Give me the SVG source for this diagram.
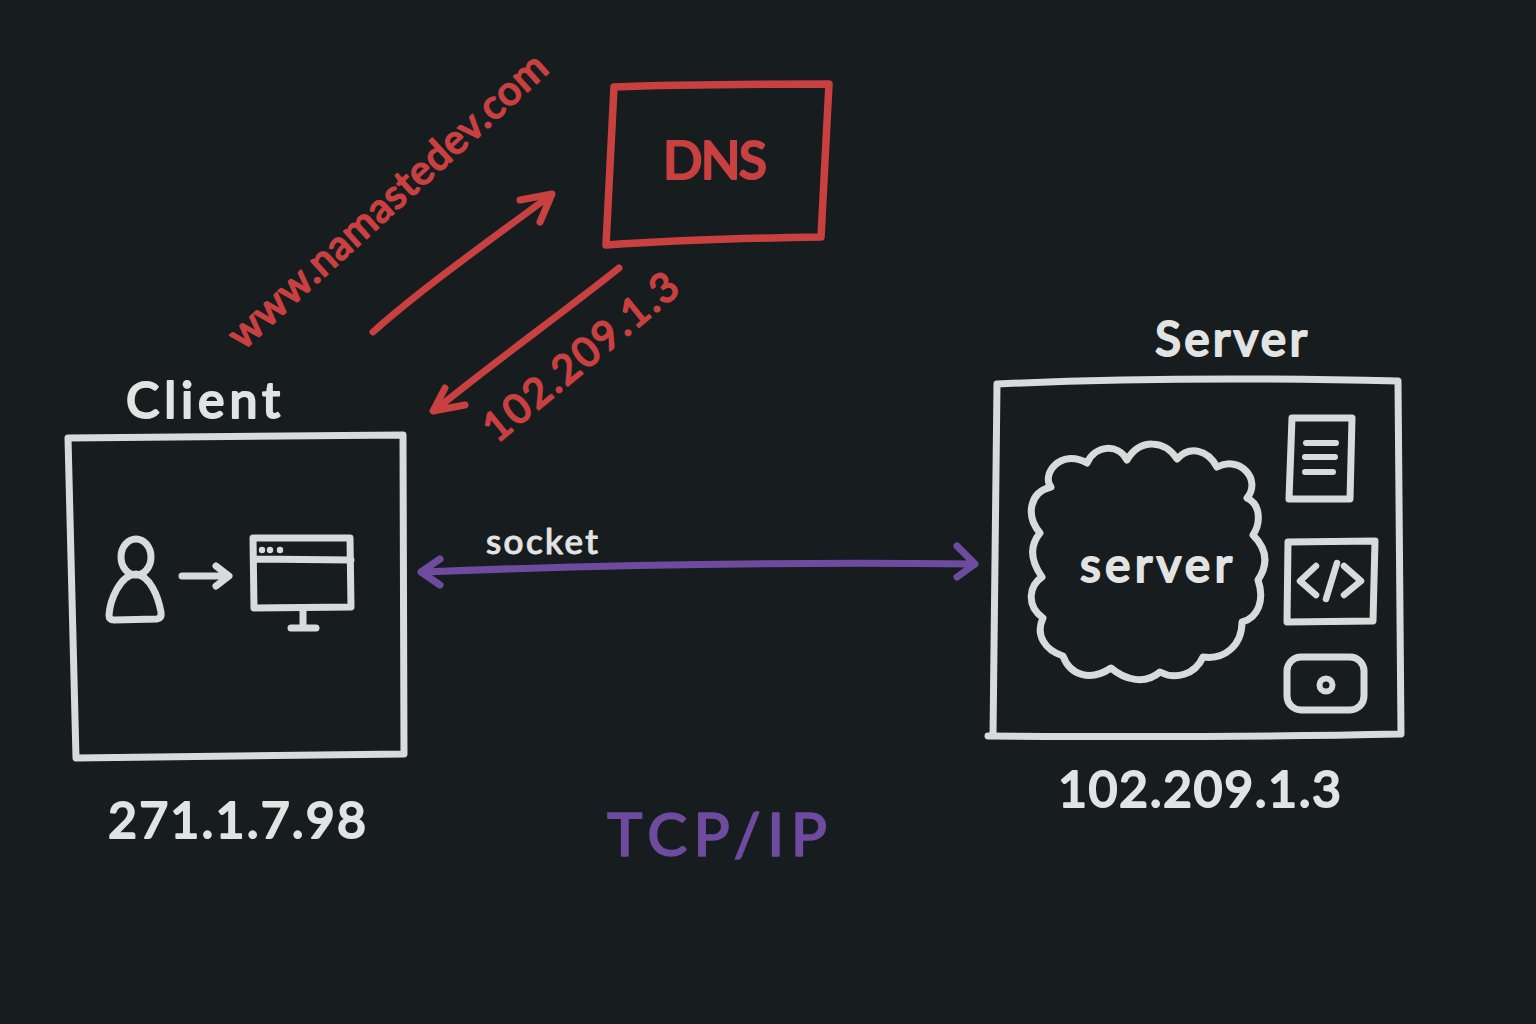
<svg xmlns="http://www.w3.org/2000/svg" width="1536" height="1024" viewBox="0 0 1536 1024">
<style>
.w{fill:none;stroke:#d9dbdb;stroke-linecap:round;stroke-linejoin:round}
.r{fill:none;stroke:#c94040;stroke-linecap:round;stroke-linejoin:round}
.p{fill:none;stroke:#6f4ba0;stroke-width:7;stroke-linecap:round;stroke-linejoin:round}
text{font-family:"Lato","Noto Sans","Liberation Sans",sans-serif;font-weight:500;stroke-linejoin:round}
.tw{fill:#e2e3e3;stroke:#e2e3e3;stroke-width:2}
.tr{fill:#c94040;stroke:#c94040;stroke-width:1.6}
</style>
<rect width="1536" height="1024" fill="#171c1f"/>
<g id="client">
<path class="w" stroke-width="7" d="M68 438 L403 435 L404 754 L76 758 Z"/>
<text class="tw" x="126" y="418" font-size="50" textLength="154">Client</text>
<text class="tw" x="108" y="838" font-size="50" textLength="258">271.1.7.98</text>
<g id="client-user">
<ellipse class="w" stroke-width="7" cx="136" cy="557" rx="15" ry="18"/>
<path class="w" stroke-width="7" d="M136 574 C120 575 110 600 109 615 Q109 620 114 620 L157 619 Q162 618 161 612 C158 596 150 576 136 574 Z"/>
</g>
<path class="w" stroke-width="7" d="M182 576 L228 576 M216 566 L229 576 L216 586"/>
<g id="client-browser">
<path class="w" stroke-width="7" d="M253 538 L350 538 L351 607 L254 608 Z M254 559 L351 560"/>
<circle cx="262" cy="550" r="3.2" fill="#d9dbdb"/><circle cx="270" cy="550" r="3.2" fill="#d9dbdb"/><circle cx="280" cy="550" r="3.2" fill="#d9dbdb"/>
<path class="w" stroke-width="7" d="M303 609 L303 628 M291 628 L316 628"/>
</g>
</g>
<g id="dns">
<path class="r" stroke-width="7.5" d="M614 87 C680 84 760 84 829 84 L821 237 C750 238 680 240 606 245 Z"/>
<text class="tr" x="663" y="179" font-size="52" textLength="104" style="stroke-width:2.2">DNS</text>
</g>
<g id="server">
<path class="w" stroke-width="7" d="M997 384 C1130 378 1270 378 1398 381 L1401 734 C1260 737 1120 737 988 736 M997 384 L993 736"/>
<text class="tw" x="1155" y="356" font-size="48" textLength="152">Server</text>
<text class="tw" x="1058" y="807" font-size="50" textLength="283">102.209.1.3</text>
<g id="server-cloud">
<path class="w" stroke-width="7" d="M1051 487 C1041 475 1060 448 1087 463 C1095 445 1118 443 1127 460 C1140 438 1165 440 1177 459 C1190 445 1208 450 1217 467 C1240 455 1262 480 1247 498 C1262 505 1260 525 1253 535 C1268 550 1268 565 1258 580 C1265 600 1258 618 1242 622 C1242 645 1225 660 1203 657 C1195 675 1175 680 1160 672 C1145 685 1125 680 1111 668 C1090 682 1070 675 1063 656 C1045 650 1035 635 1043 618 C1025 605 1030 585 1042 577 C1030 560 1030 545 1040 533 C1025 515 1030 492 1051 487 Z"/>
<text class="tw" x="1080" y="582" font-size="48" textLength="152">server</text>
</g>
<g id="server-doc">
<path class="w" stroke-width="7" d="M1292 418 L1352 418 L1350 499 L1289 499 Z"/>
<path class="w" stroke-width="6" d="M1306 443 L1336 443 M1305 457 L1335 457 M1305 472 L1333 472"/>
</g>
<g id="server-code">
<path class="w" stroke-width="7" d="M1288 542 L1375 541 L1373 621 L1287 622 Z"/>
<path class="w" stroke-width="6.5" d="M1316 566 L1300 581 L1316 595 M1337 563 L1326 599 M1344 566 L1361 581 L1344 595"/>
</g>
<g id="server-disk">
<rect class="w" stroke-width="7" x="1287" y="657" width="77" height="53" rx="14"/>
<circle class="w" stroke-width="6" cx="1326" cy="685" r="6.5"/>
</g>
</g>
<g id="connectors">
<path class="r" stroke-width="7" d="M373 332 C420 290 490 240 551 195 M520 200 L552 194 L540 222"/>
<path class="r" stroke-width="7" d="M619 268 C560 315 490 365 434 411 M445 388 L433 411 L465 405"/>
<path class="p" d="M422 572 C600 565 800 562 975 564 M440 559 L421 572 L440 585 M957 546 L975 564 L957 577"/>
</g>
<g id="labels">
<text class="tr" transform="translate(243 351) rotate(-42.3)" font-size="41" textLength="416">www.namastedev.com</text>
<text class="tr" transform="translate(497 444) rotate(-39.5)" font-size="41" textLength="240">102.209.1.3</text>
<text x="486" y="554" font-size="35" textLength="112" fill="#e2e3e3" stroke="#e2e3e3" stroke-width="1">socket</text>
<text x="607" y="856" font-size="60" textLength="220" fill="#6f4ba0" stroke="#6f4ba0" stroke-width="1.4">TCP/IP</text>
</g>
</svg>
